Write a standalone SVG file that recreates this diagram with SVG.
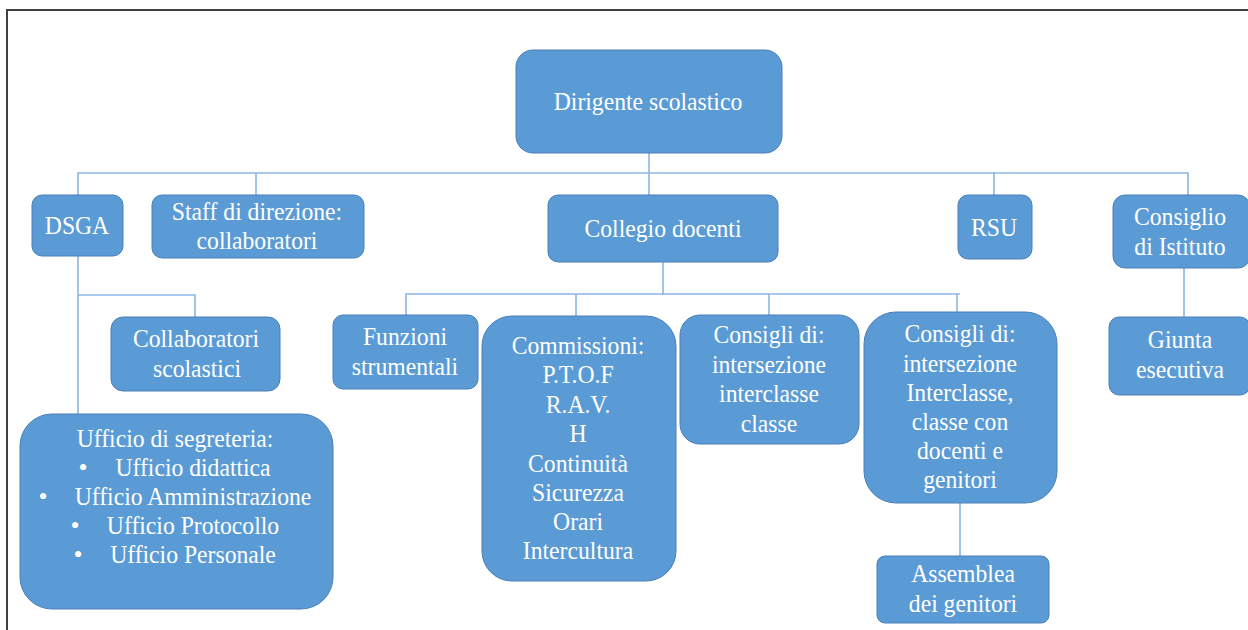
<svg xmlns="http://www.w3.org/2000/svg" width="1248" height="630" viewBox="0 0 1248 630" font-family="Liberation Serif, serif">
<style>
.n{fill:#5B9BD5;stroke:#4A7FB8;stroke-width:1}
.t{font-size:26px;fill:#FFFFFF;text-anchor:middle}
.b{font-size:26px;fill:#FFFFFF;text-anchor:middle}
.c{fill:none;stroke:#8DB6E3;stroke-width:1.6}
.f{fill:none;stroke:#404040;stroke-width:2}
</style>
<rect width="1248" height="630" fill="#FFFFFF"/>
<g id="frame"><path class="f" d="M7,630 V10 H1248"/></g>
<g id="connectors">
<path class="c" d="M649,153 V195"/>
<path class="c" d="M78,195 V173 H1188 V195"/>
<path class="c" d="M256,173 V195"/>
<path class="c" d="M994,172 V195"/>
<path class="c" d="M1184,268 V317"/>
<path class="c" d="M78,256 V414"/>
<path class="c" d="M78,295 H195 V317"/>
<path class="c" d="M663,262 V295"/>
<path class="c" d="M406,315 V294 H960"/>
<path class="c" d="M576,294 V316"/>
<path class="c" d="M769,294 V315"/>
<path class="c" d="M957,294 V312"/>
<path class="c" d="M960,503 V556"/>
</g>
<g id="dirigente"><rect class="n" x="516" y="50" width="266" height="103" rx="17"/>
<text class="t" font-family="Liberation Serif" transform="translate(648 0) scale(0.91 1)" x="0" y="110">Dirigente scolastico</text></g>
<g id="dsga"><rect class="n" x="32" y="195" width="91" height="61" rx="10"/>
<text class="t" font-family="Liberation Serif" transform="translate(77 0) scale(0.91 1)" x="0" y="234">DSGA</text></g>
<g id="staff"><rect class="n" x="152" y="195" width="212" height="63" rx="10"/>
<text class="t" font-family="Liberation Serif" transform="translate(257 0) scale(0.91 1)" x="0" y="220">Staff di direzione:</text>
<text class="t" font-family="Liberation Serif" transform="translate(257 0) scale(0.91 1)" x="0" y="249">collaboratori</text></g>
<g id="collegio"><rect class="n" x="548" y="195" width="230" height="67" rx="10"/>
<text class="t" font-family="Liberation Serif" transform="translate(663 0) scale(0.91 1)" x="0" y="237">Collegio docenti</text></g>
<g id="rsu"><rect class="n" x="958" y="195" width="74" height="64" rx="10"/>
<text class="t" font-family="Liberation Serif" transform="translate(994 0) scale(0.91 1)" x="0" y="236">RSU</text></g>
<g id="consiglio-istituto"><rect class="n" x="1113" y="195" width="137" height="73" rx="12"/>
<text class="t" font-family="Liberation Serif" transform="translate(1180 0) scale(0.91 1)" x="0" y="225">Consiglio</text>
<text class="t" font-family="Liberation Serif" transform="translate(1180 0) scale(0.91 1)" x="0" y="255">di Istituto</text></g>
<g id="giunta"><rect class="n" x="1109" y="317" width="141" height="78" rx="10"/>
<text class="t" font-family="Liberation Serif" transform="translate(1180 0) scale(0.91 1)" x="0" y="348">Giunta</text>
<text class="t" font-family="Liberation Serif" transform="translate(1180 0) scale(0.91 1)" x="0" y="378">esecutiva</text></g>
<g id="collaboratori"><rect class="n" x="111" y="317" width="169" height="74" rx="12"/>
<text class="t" font-family="Liberation Serif" transform="translate(196 0) scale(0.91 1)" x="0" y="347">Collaboratori</text>
<text class="t" font-family="Liberation Serif" transform="translate(197 0) scale(0.91 1)" x="0" y="377">scolastici</text></g>
<g id="ufficio"><rect class="n" x="20" y="414" width="313" height="195" rx="32"/>
<text class="t" font-family="Liberation Serif" transform="translate(175 0) scale(0.91 1)" x="0" y="447">Ufficio di segreteria:</text>
<text class="b" font-family="Liberation Serif" x="83" y="476">•</text>
<text class="t" font-family="Liberation Serif" transform="translate(193 0) scale(0.91 1)" x="0" y="476">Ufficio didattica</text>
<text class="b" font-family="Liberation Serif" x="43" y="505">•</text>
<text class="t" font-family="Liberation Serif" transform="translate(193 0) scale(0.91 1)" x="0" y="505">Ufficio Amministrazione</text>
<text class="b" font-family="Liberation Serif" x="75" y="534">•</text>
<text class="t" font-family="Liberation Serif" transform="translate(193 0) scale(0.91 1)" x="0" y="534">Ufficio Protocollo</text>
<text class="b" font-family="Liberation Serif" x="78" y="563">•</text>
<text class="t" font-family="Liberation Serif" transform="translate(193 0) scale(0.91 1)" x="0" y="563">Ufficio Personale</text></g>
<g id="funzioni"><rect class="n" x="333" y="315" width="145" height="74" rx="10"/>
<text class="t" font-family="Liberation Serif" transform="translate(405 0) scale(0.91 1)" x="0" y="345">Funzioni</text>
<text class="t" font-family="Liberation Serif" transform="translate(405 0) scale(0.91 1)" x="0" y="375">strumentali</text></g>
<g id="commissioni"><rect class="n" x="482" y="316" width="194" height="265" rx="30"/>
<text class="t" font-family="Liberation Serif" transform="translate(578 0) scale(0.91 1)" x="0" y="354">Commissioni:</text>
<text class="t" font-family="Liberation Serif" transform="translate(578 0) scale(0.91 1)" x="0" y="383">P.T.O.F</text>
<text class="t" font-family="Liberation Serif" transform="translate(578 0) scale(0.91 1)" x="0" y="413">R.A.V.</text>
<text class="t" font-family="Liberation Serif" transform="translate(578 0) scale(0.91 1)" x="0" y="442">H</text>
<text class="t" font-family="Liberation Serif" transform="translate(578 0) scale(0.91 1)" x="0" y="472">Continuità</text>
<text class="t" font-family="Liberation Serif" transform="translate(578 0) scale(0.91 1)" x="0" y="501">Sicurezza</text>
<text class="t" font-family="Liberation Serif" transform="translate(578 0) scale(0.91 1)" x="0" y="530">Orari</text>
<text class="t" font-family="Liberation Serif" transform="translate(578 0) scale(0.91 1)" x="0" y="559">Intercultura</text></g>
<g id="consigli-1"><rect class="n" x="680" y="315" width="179" height="129" rx="20"/>
<text class="t" font-family="Liberation Serif" transform="translate(769 0) scale(0.91 1)" x="0" y="343">Consigli di:</text>
<text class="t" font-family="Liberation Serif" transform="translate(769 0) scale(0.91 1)" x="0" y="373">intersezione</text>
<text class="t" font-family="Liberation Serif" transform="translate(769 0) scale(0.91 1)" x="0" y="402">interclasse</text>
<text class="t" font-family="Liberation Serif" transform="translate(769 0) scale(0.91 1)" x="0" y="432">classe</text></g>
<g id="consigli-2"><rect class="n" x="864" y="312" width="193" height="191" rx="32"/>
<text class="t" font-family="Liberation Serif" transform="translate(960 0) scale(0.91 1)" x="0" y="342">Consigli di:</text>
<text class="t" font-family="Liberation Serif" transform="translate(960 0) scale(0.91 1)" x="0" y="372">intersezione</text>
<text class="t" font-family="Liberation Serif" transform="translate(960 0) scale(0.91 1)" x="0" y="401">Interclasse,</text>
<text class="t" font-family="Liberation Serif" transform="translate(960 0) scale(0.91 1)" x="0" y="430">classe con</text>
<text class="t" font-family="Liberation Serif" transform="translate(960 0) scale(0.91 1)" x="0" y="459">docenti e</text>
<text class="t" font-family="Liberation Serif" transform="translate(960 0) scale(0.91 1)" x="0" y="488">genitori</text></g>
<g id="assemblea"><rect class="n" x="877" y="556" width="172" height="67" rx="8"/>
<text class="t" font-family="Liberation Serif" transform="translate(963 0) scale(0.91 1)" x="0" y="582">Assemblea</text>
<text class="t" font-family="Liberation Serif" transform="translate(963 0) scale(0.91 1)" x="0" y="612">dei genitori</text></g>
</svg>
